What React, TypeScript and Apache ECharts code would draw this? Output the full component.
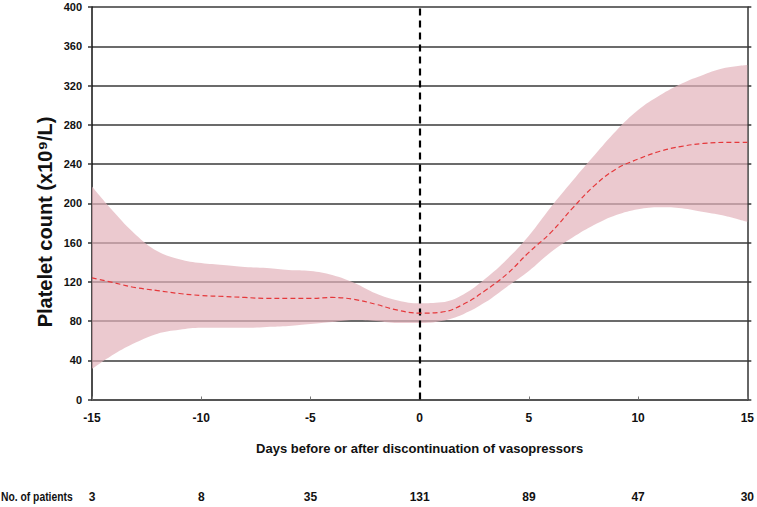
import React, { useEffect, useRef } from "react";
import * as echarts from "echarts";

const days = [-15,-14,-13,-12,-11,-10,-9,-8,-7,-6,-5,-4,-3,-2,-1,0,1,2,3,4,5,6,7,8,9,10,11,12,13,14,15];
const meanValues = [124,119,114,111,108,106,105,104,103,103,103,104,102,97,91,88,89,97,111,128,150,170,195,218,235,245,253,258,261,262,262];
const upperValues = [217,191,168,151,143,139,137,135,134,132,131,127,119,108,101,98,99,107,123,143,167,196,223,249,274,295,310,322,331,338,341];
const lowerValues = [31,46,58,67,71,73,73,73,74,75,77,79,81,80,78,78,80,87,99,115,131,150,165,178,188,194,196,195,191,187,181];
const patientDays = [-15,-10,-5,0,5,10,15];
const patientCounts = [3,8,35,131,89,47,30];

const FONT = "'Liberation Sans', Arial, sans-serif";

export default function App() {
  const ref = useRef<HTMLDivElement>(null);
  useEffect(() => {
    document.body.style.margin = "0";
    if (!ref.current) return;
    const chart = echarts.init(ref.current, null, { renderer: "svg" });
    const cats = days.map(String);
    const bandData = days.map((_, i) => upperValues[i] - lowerValues[i]);
    const countMap: Record<string, number> = {};
    patientDays.forEach((d, i) => (countMap[String(d)] = patientCounts[i]));
    chart.setOption({
      animation: false,
      textStyle: { fontFamily: FONT },
      grid: { left: 92, right: 8, top: 7, bottom: 107.5, containLabel: false },
      xAxis: [
        {
          type: "category",
          data: cats,
          boundaryGap: false,
          name: "Days before or after discontinuation of vasopressors",
          nameLocation: "middle",
          nameGap: 42,
          nameTextStyle: { fontFamily: FONT, fontWeight: "bold", fontSize: 13, color: "#111" },
          axisLine: { show: true, onZero: false, lineStyle: { color: "#555", width: 2 } },
          axisTick: { show: true, inside: true, length: 3, interval: 4, lineStyle: { color: "#777" } },
          axisLabel: { interval: 4, margin: 12, fontFamily: FONT, fontWeight: "bold", fontSize: 12, color: "#111" },
          splitLine: { show: false },
        },
        {
          type: "category",
          data: cats,
          boundaryGap: false,
          position: "bottom",
          offset: 86,
          axisLine: { show: false },
          axisTick: { show: false },
          axisLabel: {
            interval: 4,
            margin: 5,
            fontFamily: FONT,
            fontWeight: "bold",
            fontSize: 12,
            color: "#111",
            formatter: (v: string) => String(countMap[v] ?? ""),
          },
          splitLine: { show: false },
        },
      ],
      yAxis: [
        {
          type: "value",
          min: 0,
          max: 400,
          interval: 40,
          axisLine: { show: true, lineStyle: { color: "#111", width: 1.5 } },
          axisTick: { show: true, length: 4, lineStyle: { color: "#333", width: 1.5 } },
          axisLabel: { margin: 10, fontFamily: FONT, fontWeight: "bold", fontSize: 11, color: "#111" },
          splitLine: { show: true, lineStyle: { color: "#3a3a3a", width: 1.6 } },
        },
        {
          type: "value",
          min: 0,
          max: 400,
          interval: 40,
          position: "right",
          axisLine: { show: true, lineStyle: { color: "#333", width: 1.5 } },
          axisTick: { show: true, length: 4, lineStyle: { color: "#333", width: 1.5 } },
          axisLabel: { show: false },
          splitLine: { show: false },
        },
      ],
      graphic: [
        {
          type: "text",
          x: 45,
          y: 222,
          rotation: Math.PI / 2,
          style: {
            text: "Platelet count (x10⁹/L)",
            font: "bold 20px 'Liberation Sans', Arial, sans-serif",
            fill: "#111",
            textAlign: "center",
            textVerticalAlign: "middle",
          },
        },
        {
          type: "text",
          x: 1,
          y: 497,
          scaleX: 0.86,
          style: {
            text: "No. of patients",
            font: "bold 12px 'Liberation Sans', Arial, sans-serif",
            fill: "#111",
            textAlign: "left",
            textVerticalAlign: "middle",
          },
        },
      ],
      series: [
        {
          name: "lower",
          type: "line",
          data: lowerValues,
          stack: "band",
          smooth: 0.4,
          symbol: "none",
          lineStyle: { opacity: 0 },
          silent: true,
        },
        {
          name: "band",
          type: "line",
          data: bandData,
          stack: "band",
          smooth: 0.4,
          symbol: "none",
          lineStyle: { opacity: 0 },
          areaStyle: { color: "rgb(226,178,186)", opacity: 0.7 },
          silent: true,
        },
        {
          name: "mean",
          type: "line",
          data: meanValues,
          smooth: 0.4,
          symbol: "none",
          lineStyle: { color: "#e5383b", width: 1.2, type: [5, 3] },
          markLine: {
            silent: true,
            symbol: "none",
            label: { show: false },
            lineStyle: { color: "#000", width: 2.2, type: [7, 5] },
            data: [{ xAxis: days.indexOf(0) }],
          },
          z: 5,
        },
      ],
    });
    return () => chart.dispose();
  }, []);
  return <div ref={ref} style={{ width: 757, height: 507 }} />;
}
